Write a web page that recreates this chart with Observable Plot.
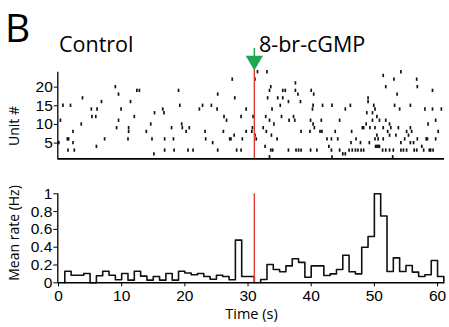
<!DOCTYPE html>
<html><head><meta charset="utf-8">
<script src="https://cdn.jsdelivr.net/npm/d3@7"></script>
<script src="https://cdn.jsdelivr.net/npm/@observablehq/plot@0.6"></script>
<style>
html,body{margin:0;padding:0;background:#fff;}
#wrap{position:relative;width:449px;height:327px;overflow:hidden;font-family:"Open Sans",sans-serif;}
#wrap svg{position:absolute;left:0;}
</style></head><body><div id="wrap"></div>
<script>
// ---- data ----
const spikeTimes = [
 0.05,0.3,0.7,1.9,1.4,1.6,1.5,2.3,2.3,2.5,3.6,3.8,5.2,6.1,5.3,5.9,6.0,6.8,7.3,9.0,9.5,9.9,9.5,9.2,
 11.1,11.1,11.0,11.4,12.0,12.4,12.8,13.9,14.6,14.8,15.1,15.2,16.5,16.7,16.8,16.8,17.9,18.2,18.3,
 19.0,19.2,19.5,19.6,20.2,20.7,20.5,21.3,22.3,22.8,23.2,23.3,24.2,24.4,25.1,25.2,25.2,26.1,26.2,26.6,27.1,
 27.5,27.9,28.9,29.7,30.8,30.7,30.6,29.7,27.3,27.8,29.1,28.2,28.9,31.1,31.3,32.4,32.8,33.4,32.7,33.6,33.9,33.4,
 31.5,33.0,31.1,33.6,33.4,33.1,35.5,35.9,34.7,35.5,36.4,33.8,35.1,34.1,35.3,36.5,32.9,33.7,34.6,36.4,
 37.5,37.5,37.9,40.0,40.4,38.3,40.3,40.2,41.8,43.3,45.4,46.2,49.0,49.0,48.8,37.2,37.4,39.9,41.6,44.5,
 40.3,40.5,48.1,48.3,48.7,38.4,39.8,41.4,41.7,43.8,46.4,47.1,42.5,43.2,44.2,46.3,47.8,42.8,
 37.6,38.0,38.4,39.9,40.9,43.2,44.5,45.0,45.4,46.0,46.5,47.0,47.4,47.9,48.3,43.3,
 51.4,54.2,53.1,56.7,51.8,56.8,59.2,53.6,53.2,54.0,55.7,58.0,59.2,60.6,49.9,50.1,49.7,50.4,50.8,51.8,52.4,49.7,
 49.3,50.1,51.4,52.6,53.8,55.7,55.9,59.7,58.5,60.1,50.4,50.6,52.1,52.4,53.4,54.8,55.1,55.4,56.8,58.2,58.4,59.7,
 50.1,49.2,54.2,55.7,56.2,51.4,50.2,50.4,50.6,50.8,51.3,51.8,52.4,53.0,54.2,54.6,55.1,56.3,56.7,57.8,
 58.7,58.9,59.3,52.9,57.5
];
const spikeUnits = [
 5,11,15,15,6,6,3,8,5,3,10,17,14,14,12,12,4,16,6,20,18,14,11,9,
 9,8,6,16,12,19,19,8,10,6,2,13,14,13,3,6,9,6,3,
 19,15,10,9,8,9,3,3,14,15,8,6,15,5,14,18,3,8,12,11,6,
 22,17,12,14,12,9,8,8,6,7,6,3,3,7,6,9,12,11,4,3,3,1.2,
 24,24,22,20,19,17,19,19,17,17,16,14,15,10,12,11,8,7,6,3,
 21,19,18,19,18,16,15,14,15,15,14,15,16,17,13,12,11,11,11,11,
 10,9,9,9,10,8,8,8,8,8,8,6,6,6,6,5,5,4,
 3,3,3,3,3,3,3,2,2,3,3,3,3,3,3,1.2,
 23,24,22,22,20,20,19,18,15,14,15,14,14,14,15,14,13,12,11,11,10,11,
 9,9,9,9,9,9,8,11,10,8,7,6,8,7,7,6,8,7,6,6,6,6,
 6,5,5,5,5,6,4,4,4,4,3,3,3,3,3,3,3,3,3,3,
 3,3,3,1.2,4
];
// mean rate (Hz), 1-s bins; segment A: bins starting 1..30, segment B: bins starting 32..60
const binStartsA = [1,2,3,4,5,6,7,8,9,10,11,12,13,14,15,16,17,18,19,20,21,22,23,24,25,26,27,28,29,30];
const ratesA = [0.13,0.085,0.085,0.105,0,0.08,0.13,0.085,0.035,0.105,0.03,0.13,0.075,0.03,0.07,0.03,0.105,0.03,0.13,0.11,0.09,0.105,0.07,0.04,0.085,0.07,0.035,0.48,0.07,0.07];
const binStartsB = [32,33,34,35,36,37,38,39,40,41,42,43,44,45,46,47,48,49,50,51,52,53,54,55,56,57,58,59,60];
const ratesB = [0.037,0.205,0.15,0.125,0.19,0.27,0.23,0.063,0.19,0.19,0.082,0.1,0.15,0.31,0.125,0.1,0.4,0.52,1.0,0.75,0.127,0.28,0.127,0.195,0.12,0.07,0.09,0.25,0.07];
const binWidth = 1;
const drugTime = [31];
const timeTicks = [0,10,20,30,40,50,60];
const unitTicks = [5,10,15,20];
const rateTicks = [0,0.2,0.4,0.6,0.8,1];
const labels = {panel:"B", control:"Control", drug:"8-br-cGMP", unit:"Unit #", rate:"Mean rate (Hz)", time:"Time (s)"};

// ---- build ----
const spikes = spikeTimes.map((t,i)=>({t, u: spikeUnits[i]}));
function steps(starts, rates){
  const pts = [{t: starts[0], v: 0}];
  starts.forEach((s,i)=>pts.push({t: s, v: rates[i]}));
  const end = starts[starts.length-1] + binWidth;
  pts.push({t: end, v: rates[rates.length-1]});
  pts.push({t: end, v: 0});
  return pts;
}
const stepA = steps(binStartsA, ratesA);
const stepB = steps(binStartsB, ratesB);

const XD = [-0.11, 61.1];
const green = "#1fa64e", red = "#e53a2f";
const font = {fontFamily:"Liberation Sans, Arial, sans-serif", fontSize:"15.5px", color:"#000", background:"transparent", overflow:"visible"};
const wrap = document.getElementById("wrap");

const raster = Plot.plot({
  width: 449, height: 130,
  marginTop: 31.7, marginBottom: 11.7, marginLeft: 57.3, marginRight: 5,
  x: {domain: XD, axis: null},
  y: {domain: [0.8, 24], axis: null},
  style: font,
  marks: [
    Plot.ruleX(spikes, {x: "t", y1: d => d.u - 0.45, y2: d => d.u + 0.45, stroke: "#111", strokeWidth: 1.7}),
    Plot.ruleX(drugTime, {x: d => d, y1: () => 0.8, y2: () => 25, stroke: red, strokeWidth: 1.4}),
    Plot.ruleX(drugTime, {x: d => d, y1: () => 27, y2: () => 30.35, stroke: green, strokeWidth: 1.5}),
    Plot.dot(drugTime, {x: d => d, y: () => 27.1, symbol: "triangle", rotate: 180, r: 6.4, fill: green, stroke: "none"}),
    Plot.ruleY([0.8], {stroke: "#000", strokeWidth: 1.8}),
    Plot.ruleX([XD[0]], {stroke: "#000", strokeWidth: 1.3}),
    Plot.axisY({ticks: unitTicks, tickSize: 3.5, tickPadding: 1.5, label: null})
  ]
});
raster.style.top = "40px";
wrap.appendChild(raster);

const hist = Plot.plot({
  width: 449, height: 147,
  marginTop: 13.3, marginBottom: 44.7, marginLeft: 57.3, marginRight: 5,
  x: {domain: XD, axis: null},
  y: {domain: [0, 1], axis: null},
  style: font,
  marks: [
    Plot.line(stepA, {x: "t", y: "v", curve: "step-after", stroke: "#111", strokeWidth: 1.6}),
    Plot.line(stepB, {x: "t", y: "v", curve: "step-after", stroke: "#111", strokeWidth: 1.6}),
    Plot.ruleX(drugTime, {x: d => d, y1: () => 0, y2: () => 1, stroke: red, strokeWidth: 1.4}),
    Plot.ruleY([0], {stroke: "#000", strokeWidth: 1.5}),
    Plot.ruleX([XD[0]], {stroke: "#000", strokeWidth: 1.3}),
    Plot.axisX({ticks: timeTicks, tickSize: 4, tickPadding: 3, label: null}),
    Plot.axisY({ticks: rateTicks, tickSize: 4, tickPadding: 1.5, tickFormat: d => String(+d.toFixed(1)), label: null})
  ]
});
hist.style.top = "180px";
wrap.appendChild(hist);

// titles and axis labels
const ov = d3.create("svg").attr("width", 449).attr("height", 327)
  .style("top", "0px").style("pointer-events", "none")
  .attr("font-family", "Open Sans, sans-serif").attr("fill", "#000");
ov.append("text").attr("x", 5).attr("y", 42).attr("font-size", 39).text(labels.panel);
ov.append("text").attr("x", 59).attr("y", 52).attr("font-size", 21.5).text(labels.control);
ov.append("text").attr("x", 259).attr("y", 52).attr("font-size", 21.5).text(labels.drug);
ov.append("text").attr("transform", "translate(19,126) rotate(-90)").attr("text-anchor", "middle").attr("font-size", 14).text(labels.unit);
ov.append("text").attr("transform", "translate(19,233) rotate(-90)").attr("text-anchor", "middle").attr("font-size", 14).text(labels.rate);
ov.append("text").attr("x", 251.5).attr("y", 319).attr("text-anchor", "middle").attr("font-size", 14.5).text(labels.time);
wrap.appendChild(ov.node());
</script></body></html>
